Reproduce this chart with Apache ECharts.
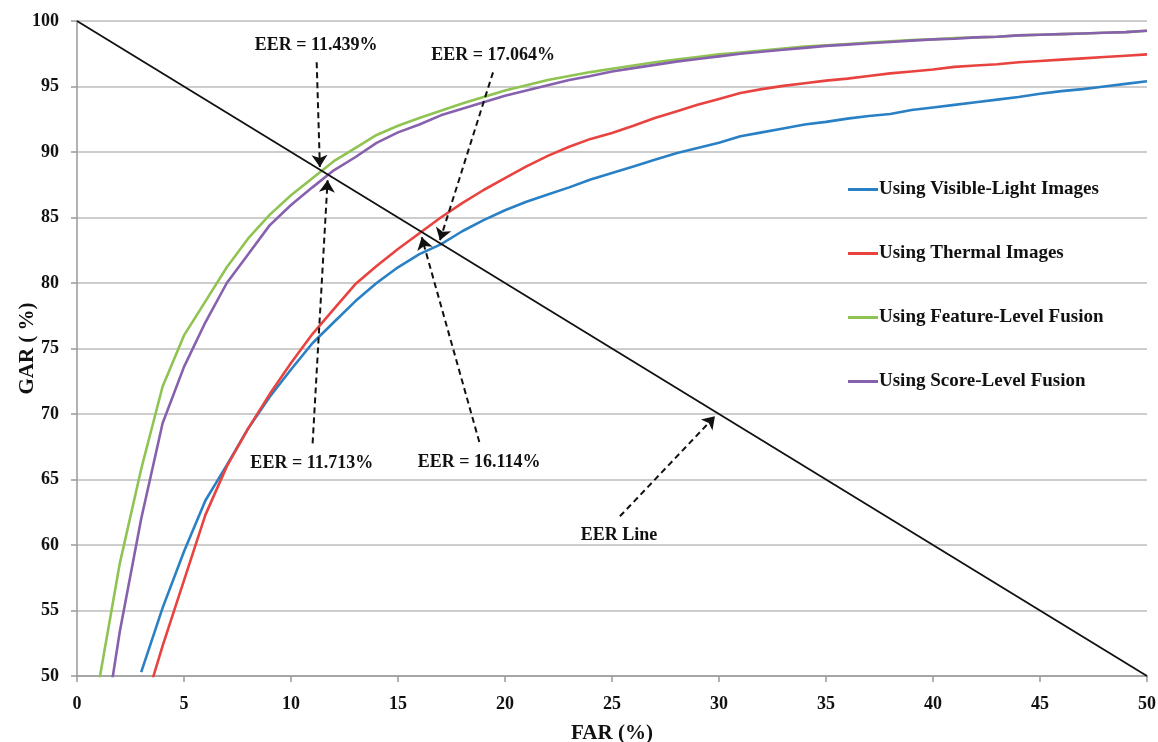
<!DOCTYPE html>
<html>
<head>
<meta charset="utf-8">
<script src="https://cdn.jsdelivr.net/npm/echarts@6/dist/echarts.min.js"></script>
<style>
html,body{margin:0;padding:0;background:#fff;}
#chart{width:1158px;height:742px;}
</style>
</head>
<body>
<div id="chart"></div>
<script>
// FAR values (%) sampled at integer steps
var farVisible = [3,4,5,6,7,8,9,10,11,12,13,14,15,16,17,18,19,20,21,22,23,24,25,26,27,28,29,30,31,32,33,34,35,36,37,38,39,40,41,42,43,44,45,46,47,48,49,50];
var garVisible = [50.3,55.2,59.5,63.4,66.1,68.9,71.3,73.4,75.4,77.0,78.6,80.0,81.2,82.2,82.95,83.95,84.8,85.55,86.2,86.75,87.3,87.9,88.4,88.9,89.4,89.9,90.3,90.7,91.2,91.5,91.8,92.1,92.3,92.55,92.75,92.9,93.2,93.4,93.6,93.8,94.0,94.2,94.45,94.65,94.8,95.0,95.2,95.4];

var farThermal = [3,4,5,6,7,8,9,10,11,12,13,14,15,16,17,18,19,20,21,22,23,24,25,26,27,28,29,30,31,32,33,34,35,36,37,38,39,40,41,42,43,44,45,46,47,48,49,50];
var garThermal = [46.9,52.3,57.3,62.3,66.0,68.9,71.5,73.9,76.1,78.0,79.9,81.3,82.6,83.8,85.0,86.1,87.1,88.0,88.9,89.7,90.4,91.0,91.45,92.0,92.6,93.1,93.6,94.05,94.5,94.8,95.05,95.25,95.45,95.6,95.8,96.0,96.15,96.3,96.5,96.6,96.7,96.85,96.95,97.05,97.15,97.25,97.35,97.45];

var farFeature = [1,2,3,4,5,6,7,8,9,10,11,12,13,14,15,16,17,18,19,20,21,22,23,24,25,26,27,28,29,30,31,32,33,34,35,36,37,38,39,40,41,42,43,44,45,46,47,48,49,50];
var garFeature = [49.3,58.6,65.8,72.1,76.0,78.6,81.2,83.4,85.2,86.7,88.0,89.3,90.3,91.3,92.0,92.6,93.15,93.7,94.2,94.7,95.1,95.5,95.8,96.1,96.35,96.6,96.85,97.05,97.25,97.45,97.6,97.75,97.9,98.05,98.15,98.25,98.35,98.45,98.55,98.6,98.7,98.75,98.8,98.9,98.95,99.0,99.05,99.1,99.15,99.25];

var farScore = [1,2,3,4,5,6,7,8,9,10,11,12,13,14,15,16,17,18,19,20,21,22,23,24,25,26,27,28,29,30,31,32,33,34,35,36,37,38,39,40,41,42,43,44,45,46,47,48,49,50];
var garScore = [42.9,53.4,62.0,69.3,73.6,77.0,80.0,82.2,84.4,85.95,87.3,88.6,89.6,90.7,91.5,92.1,92.8,93.3,93.8,94.3,94.7,95.1,95.5,95.8,96.15,96.4,96.65,96.9,97.1,97.3,97.5,97.65,97.8,97.95,98.1,98.2,98.3,98.4,98.5,98.6,98.65,98.75,98.8,98.9,98.95,99.0,99.05,99.1,99.15,99.25];

var eerLineX = [0, 50];
var eerLineY = [100, 50];

var seriesNames = ['Using Visible-Light Images','Using Thermal Images','Using Feature-Level Fusion','Using Score-Level Fusion'];

// Annotation texts and their anchor points (label, arrow start, arrow tip) in data units
var annText = ['EER = 11.439%','EER = 11.713%','EER = 16.114%','EER = 17.064%','EER Line'];
var annLabelX = [11.17, 10.97, 18.79, 19.44, 25.33];
var annLabelY = [98.14, 66.21, 66.31, 97.38, 60.74];
var annStartX = [11.2, 11.01, 18.8, 19.44, 25.37];
var annStartY = [96.85, 67.76, 67.86, 96.08, 62.19];
var annTipX = [11.35, 11.71, 16.11, 16.96, 29.81];
var annTipY = [88.85, 87.84, 83.49, 83.26, 69.82];

function pairs(xs, ys){ return xs.map(function(x,i){ return [x, ys[i]]; }); }

var FONT = '"Liberation Serif", "DejaVu Serif", serif';
var colors = ['#2a80c4','#e8433f','#8fc352','#8761ad'];

var markLines = annText.map(function(t,i){
  return [{coord:[annStartX[i], annStartY[i]]},{coord:[annTipX[i], annTipY[i]]}];
});
var markPoints = annText.map(function(t,i){
  return {coord:[annLabelX[i], annLabelY[i]], value: t};
});

var chart = echarts.init(document.getElementById('chart'));
chart.setOption({
  animation: false,
  backgroundColor: '#fff',
  color: colors,
  grid: {left: 77, right: 11, top: 21, bottom: 66, containLabel: false, outerBoundsMode: 'none'},
  legend: {
    orient: 'vertical',
    left: 843,
    top: 175,
    itemWidth: 30,
    itemHeight: 3,
    itemGap: 45,
    icon: 'rect',
    data: seriesNames,
    textStyle: {fontFamily: FONT, fontWeight: 'bold', fontSize: 19, color: '#111', padding:[0,0,0,-4]}
  },
  xAxis: {
    type: 'value', min: 0, max: 50, interval: 5,
    name: 'FAR (%)', nameLocation: 'middle', nameGap: 47,
    nameTextStyle: {fontFamily: FONT, fontWeight: 'bold', fontSize: 21, color: '#111'},
    axisLine: {lineStyle: {color: '#999', width: 1.5}},
    axisTick: {show: true, length: 6, lineStyle: {color: '#999', width: 1.5}},
    axisLabel: {fontFamily: FONT, fontWeight: 'bold', fontSize: 18, color: '#111', margin: 19},
    splitLine: {show: false}
  },
  yAxis: {
    type: 'value', min: 50, max: 100, interval: 5,
    name: 'GAR ( %)', nameLocation: 'middle', nameGap: 39, nameRotate: 90, nameMoveOverlap: false,
    nameTextStyle: {fontFamily: FONT, fontWeight: 'bold', fontSize: 21, color: '#111'},
    axisLine: {show: true, lineStyle: {color: '#999', width: 1.5}},
    axisTick: {show: true, length: 6, lineStyle: {color: '#999', width: 1.5}},
    axisLabel: {fontFamily: FONT, fontWeight: 'bold', fontSize: 18, color: '#111', margin: 18},
    splitLine: {show: true, lineStyle: {color: '#bdbdbd', width: 1.5}}
  },
  series: [
    {name: seriesNames[0], type: 'line', data: pairs(farVisible, garVisible), showSymbol: false, symbol: 'none', lineStyle: {width: 2.6}, z: 3},
    {name: seriesNames[1], type: 'line', data: pairs(farThermal, garThermal), showSymbol: false, symbol: 'none', lineStyle: {width: 2.6}, z: 3},
    {name: seriesNames[2], type: 'line', data: pairs(farFeature, garFeature), showSymbol: false, symbol: 'none', lineStyle: {width: 2.6}, z: 3},
    {name: seriesNames[3], type: 'line', data: pairs(farScore, garScore), showSymbol: false, symbol: 'none', lineStyle: {width: 2.6}, z: 3},
    {
      name: 'EER', type: 'line', data: pairs(eerLineX, eerLineY), showSymbol: false, symbol: 'none',
      lineStyle: {width: 1.8, color: '#111'}, itemStyle: {color: '#111'}, z: 4,
      markLine: {
        silent: true, symbol: ['none','arrow'], symbolSize: 12,
        lineStyle: {type: [6, 4], color: '#111', width: 2},
        itemStyle: {color: '#111'},
        label: {show: false},
        emphasis: {disabled: true},
        data: markLines
      },
      markPoint: {
        silent: true, symbol: 'circle', symbolSize: 1,
        itemStyle: {color: 'rgba(0,0,0,0)'},
        label: {show: true, position: 'inside', formatter: function(p){ return p.value; },
          fontFamily: FONT, fontWeight: 'bold', fontSize: 18, color: '#111'},
        data: markPoints
      }
    }
  ]
});
</script>
</body>
</html>
